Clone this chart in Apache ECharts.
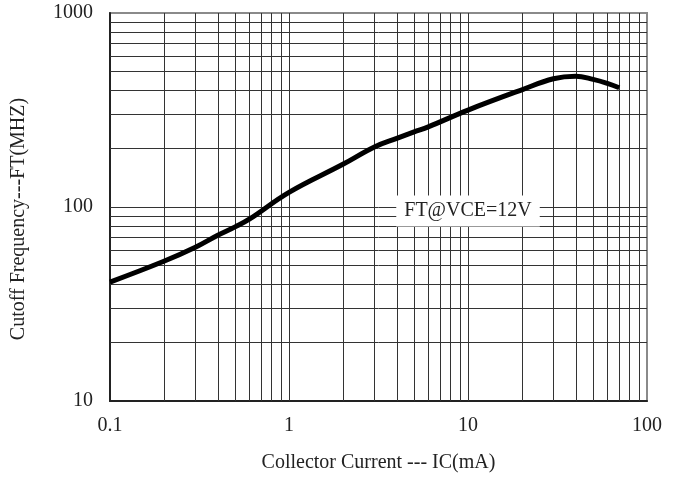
<!DOCTYPE html>
<html>
<head>
<meta charset="utf-8">
<script src="https://cdn.jsdelivr.net/npm/echarts@6/dist/echarts.min.js"></script>
<style>
  html, body { margin: 0; padding: 0; background: #fff; }
  #chart { width: 678px; height: 480px; }
</style>
</head>
<body>
<div id="chart"></div>
<script>
// Collector current (mA) and cutoff frequency (MHz) along the curve
const currentMA = [0.1, 0.2, 0.3, 0.4, 0.5, 0.6, 1, 2, 3, 4, 5, 6, 10, 20, 30, 40, 50, 60, 70];
const cutoffMHz = [41, 52.5, 62, 71.5, 79, 86.5, 119, 166, 204, 226, 244, 259, 316, 402, 458, 472, 455, 434, 412];

// Tick labels on each log axis
const xTickLabels = ['0.1', '1', '10', '100'];
const yTickLabels = ['10', '100', '1000'];

// Grid lines: every 1..9 multiple within each decade
const xGridValues = [0.2, 0.3, 0.4, 0.5, 0.6, 0.7, 0.8, 0.9, 1, 2, 3, 4, 5, 6, 7, 8, 9, 10, 20, 30, 40, 50, 60, 70, 80, 90];
const yGridValues = [20, 30, 40, 50, 60, 70, 80, 90, 100, 200, 300, 400, 500, 600, 700, 800, 900];

const curveLabel = 'FT@VCE=12V';
const labelAt = [10, 100];

const FONT = '"Liberation Serif", "Times New Roman", serif';

function pickLabel(list, v) {
  const e = Math.round(Math.log10(v));
  for (const s of list) {
    if (Math.abs(Math.log10(parseFloat(s)) - e) < 1e-6) return s;
  }
  return '';
}

const gridLineData = xGridValues.map(v => ({ xAxis: v }))
  .concat(yGridValues.map(v => ({ yAxis: v })));

const chart = echarts.init(document.getElementById('chart'));
chart.setOption({
  animation: false,
  backgroundColor: '#fff',
  grid: {
    left: 110, right: 31, top: 13, bottom: 79,
    show: true, borderColor: '#8a8a8a', borderWidth: 2
  },
  xAxis: {
    type: 'log', logBase: 10, min: 0.1, max: 100,
    name: 'Collector Current --- IC(mA)',
    nameLocation: 'middle', nameGap: 52,
    nameTextStyle: { fontFamily: FONT, fontSize: 20, color: '#222' },
    axisLine: { show: true, lineStyle: { color: '#222', width: 2 } },
    axisTick: { show: false },
    splitLine: { show: false },
    minorTick: { show: false },
    axisLabel: {
      fontFamily: FONT, fontSize: 20, color: '#222', margin: 15,
      formatter: v => pickLabel(xTickLabels, v)
    }
  },
  yAxis: {
    type: 'log', logBase: 10, min: 10, max: 1000,
    name: 'Cutoff Frequency---FT(MHZ)',
    nameLocation: 'middle', nameGap: 81, nameRotate: 90,
    nameTextStyle: { fontFamily: FONT, fontSize: 20, color: '#222', padding: [0, 24, 0, 0] },
    axisLine: { show: true, lineStyle: { color: '#222', width: 2 } },
    axisTick: { show: false },
    splitLine: { show: false },
    axisLabel: {
      fontFamily: FONT, fontSize: 20, color: '#222', margin: 17,
      formatter: v => pickLabel(yTickLabels, v)
    }
  },
  series: [
    {
      // grid lines
      type: 'line', data: [], silent: true, z: 1,
      markLine: {
        silent: true, symbol: 'none', animation: false,
        label: { show: false },
        lineStyle: { color: '#333', width: 1, type: 'solid' },
        data: gridLineData
      }
    },
    {
      type: 'line', z: 5,
      data: currentMA.map((x, i) => [x, cutoffMHz[i]]),
      smooth: 0.4,
      showSymbol: false,
      lineStyle: { color: '#000', width: 5 },
      markPoint: {
        symbol: 'rect', symbolSize: 1,
        itemStyle: { color: 'rgba(0,0,0,0)' },
        label: {
          show: true, position: 'inside', offset: [0, 4],
          formatter: curveLabel,
          fontFamily: FONT, fontSize: 20, color: '#222',
          backgroundColor: '#fff', padding: [6, 8, 5, 8]
        },
        data: [{ coord: labelAt }]
      }
    }
  ]
});
</script>
</body>
</html>
